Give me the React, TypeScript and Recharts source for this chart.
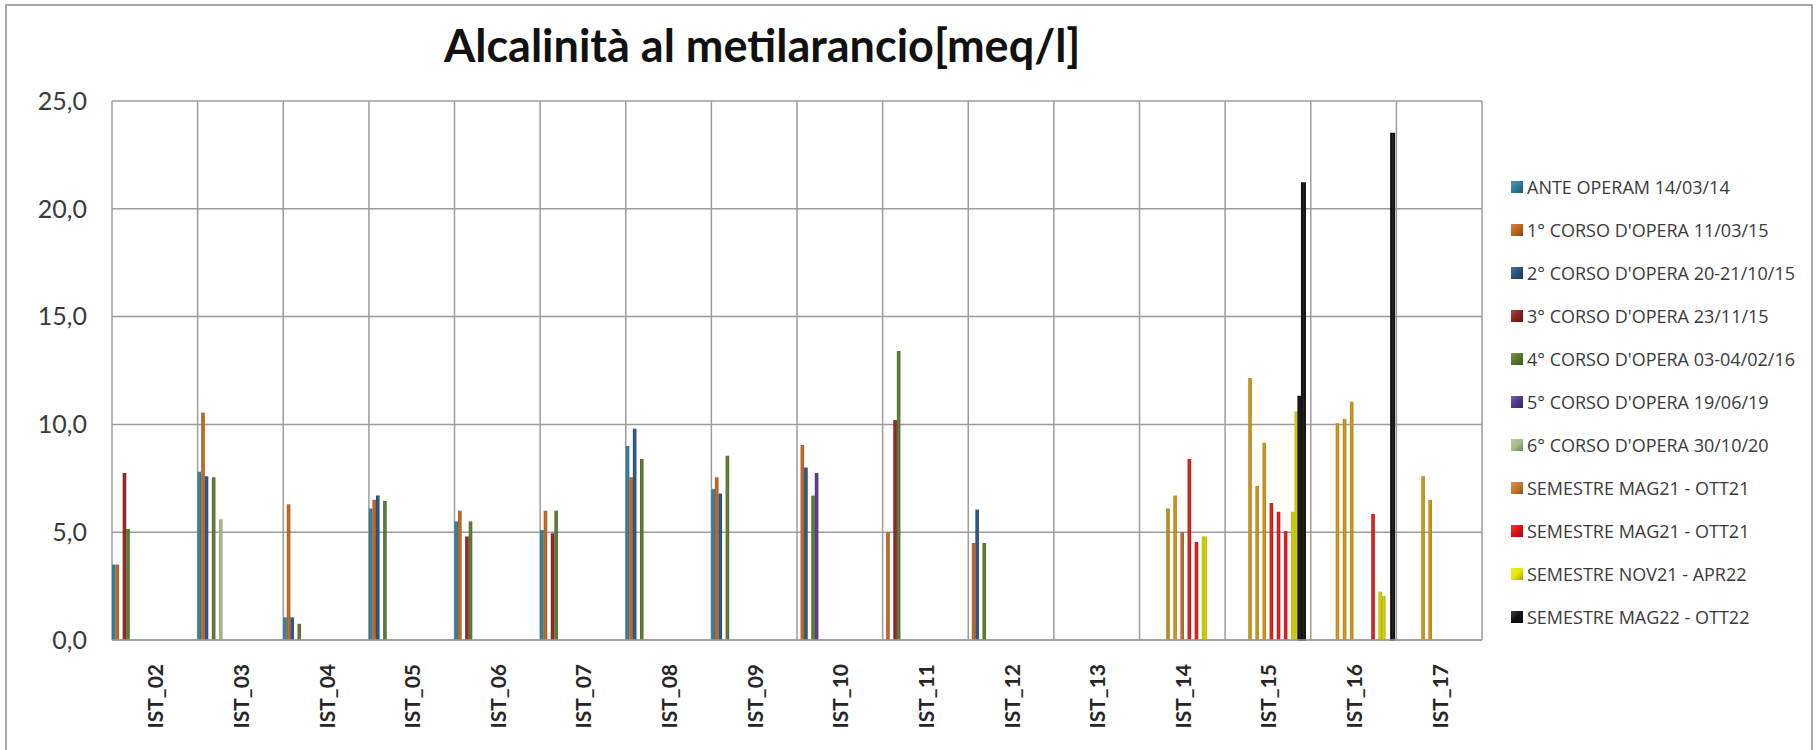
import React from 'react';
import { BarChart, Bar, XAxis, YAxis, CartesianGrid } from 'recharts';

// ---------- DATA ----------
const categories = ['IST_02','IST_03','IST_04','IST_05','IST_06','IST_07','IST_08','IST_09','IST_10','IST_11','IST_12','IST_13','IST_14','IST_15','IST_16','IST_17'];
const yTicks = [0, 5, 10, 15, 20, 25];

type V = number | null;
const anteOperam: V[] = [3.5, 7.8, 1.05, 6.1, 5.5, 5.1, 9.0, 7.0, null, null, null, null, null, null, null, null];
const corso1: V[] = [3.5, 10.55, 6.3, 6.5, 6.0, 6.0, 7.55, 7.55, 9.05, 5.0, 4.5, null, null, null, null, null];
const corso2: V[] = [null, 7.6, 1.05, 6.7, null, null, 9.8, 6.8, 8.0, null, 6.05, null, null, null, null, null];
const corso3: V[] = [7.75, null, null, null, 4.8, 4.95, null, null, null, 10.2, null, null, null, null, null, null];
const corso4: V[] = [5.15, 7.55, 0.75, 6.45, 5.5, 6.0, 8.4, 8.55, 6.7, 13.4, 4.5, null, null, null, null, null];
const corso5: V[] = [null, null, null, null, null, null, null, null, 7.75, null, null, null, null, null, null, null];
const corso6: V[] = [null, 5.6, null, null, null, null, null, null, null, null, null, null, null, null, null, null];

// semester campaigns: several samples per station
const semMag21A: number[][] = [[],[],[],[],[],[],[],[],[],[],[],[],[6.1, 6.7, 5.0],[12.15, 7.15, 9.15],[10.05, 10.25, 11.05],[7.6, 6.5]];
const semMag21B: number[][] = [[],[],[],[],[],[],[],[],[],[],[],[],[8.4, 4.55],[6.35, 5.95, 5.05],[5.85],[]];
const semNov21: number[][] = [[],[],[],[],[],[],[],[],[],[],[],[],[4.8, 4.8],[5.95, 10.6],[2.25, 2.05],[]];
const semMag22: number[][] = [[],[],[],[],[],[],[],[],[],[],[],[],[],[11.3, 21.2],[23.5],[]];

const legendNames = [
  'ANTE OPERAM 14/03/14',
  "1° CORSO D'OPERA 11/03/15",
  "2° CORSO D'OPERA 20-21/10/15",
  "3° CORSO D'OPERA 23/11/15",
  "4° CORSO D'OPERA 03-04/02/16",
  "5° CORSO D'OPERA 19/06/19",
  "6° CORSO D'OPERA 30/10/20",
  'SEMESTRE MAG21 - OTT21',
  'SEMESTRE MAG21 - OTT21',
  'SEMESTRE NOV21 - APR22',
  'SEMESTRE MAG22 - OTT22',
];

// ---------- STYLE / LAYOUT ----------
const earlyColors = ['#2E7D98', '#C0631B', '#24507F', '#8E1F1F', '#58762A', '#523889', '#A3BD85'];
const semColors = ['#C99412', '#DD1515', '#D2CE00', '#111111'];
const legendColors = [...earlyColors, '#C8772A', '#E01010', '#E8E800', '#111111'];
const slotColorOverride: Record<number, string> = { 23: '#B8692C', 15: '#BC8A22' };

// bar slot positions (in half-bar steps) of each semester sample, per station index
const semSlots: Record<number, number[]>[] = [
  { 12: [15, 19, 23], 13: [13, 17, 21], 14: [14, 18, 22], 15: [14, 18] },
  { 12: [27, 31], 13: [25, 29, 33], 14: [34] },
  { 12: [35, 36], 13: [37, 39], 14: [38, 40] },
  { 13: [41, 43], 14: [45] },
];
const H = 1.78;
const SLOT_COUNT = 47;

const earlySeries = [anteOperam, corso1, corso2, corso3, corso4, corso5, corso6];
const semSeries = [semMag21A, semMag21B, semNov21, semMag22];

const slotColor: (string | null)[] = Array(SLOT_COUNT).fill(null);
earlyColors.forEach((c, i) => { slotColor[2 * i] = c; });

const rows = categories.map((name, ci) => {
  const row: Record<string, any> = { name };
  earlySeries.forEach((arr, si) => {
    if (arr[ci] != null) row['s' + 2 * si] = arr[ci];
  });
  semSeries.forEach((arr, si) => {
    arr[ci].forEach((v, k) => {
      const slot = semSlots[si][ci][k];
      row['s' + slot] = v;
      slotColor[slot] = slotColorOverride[slot] || semColors[si];
    });
  });
  return row;
});

function shade(hex: string, f: number) {
  const n = parseInt(hex.slice(1), 16);
  let r = (n >> 16) & 255, g = (n >> 8) & 255, b = n & 255;
  const t = f < 0 ? 0 : 255;
  const p = Math.abs(f);
  r = Math.round((t - r) * p + r); g = Math.round((t - g) * p + g); b = Math.round((t - b) * p + b);
  return '#' + ((1 << 24) + (r << 16) + (g << 8) + b).toString(16).slice(1);
}

const allColors = Array.from(new Set([...slotColor.filter(Boolean) as string[]]));
const gid = (c: string) => 'grad' + c.slice(1);

const FONT = 'Lato, "Open Sans", sans-serif';
const LEGEND_FONT = '"Open Sans", sans-serif';

const XTick = (props: any) => {
  const { x, y, payload } = props;
  return (
    <g transform={`translate(${x},${y + 22})`}>
      <text transform="rotate(-90)" textAnchor="end" dominantBaseline="central" fontFamily={FONT} fontWeight={700} fontSize={21} fill="#262626">
        {payload.value}
      </text>
    </g>
  );
};

const fmt = (v: number) => v.toFixed(1).replace('.', ',');

export default function App() {
  return (
    <div style={{ position: 'absolute', left: 0, top: 0, width: 1818, height: 750, background: '#fff', overflow: 'hidden', fontFamily: FONT }}>
      <div style={{ position: 'absolute', left: 5, top: 4, width: 1808, height: 770, border: '2px solid #a8a8a8', boxSizing: 'border-box' }} />
      <div style={{ position: 'absolute', left: 444, top: 23, fontSize: 45, lineHeight: '45px', fontWeight: 700, color: '#111', whiteSpace: 'nowrap' }}>
        Alcalinità al metilarancio[meq/l]
      </div>
      <div style={{ position: 'absolute', left: 0, top: 0 }}>
        <BarChart width={1818} height={750} data={rows} margin={{ top: 101, right: 336, bottom: 10, left: 12 }} barCategoryGap={0} barGap={-H}>
          <defs>
            {allColors.map((c) => (
              <linearGradient key={c} id={gid(c)} x1="0" y1="0" x2="1" y2="0">
                <stop offset="0%" stopColor={shade(c, -0.12)} />
                <stop offset="50%" stopColor={shade(c, 0.08)} />
                <stop offset="100%" stopColor={shade(c, -0.15)} />
              </linearGradient>
            ))}
          </defs>
          <CartesianGrid
            stroke="#9c9c9c"
            strokeWidth={1.5}
            verticalCoordinatesGenerator={({ offset }: any) =>
              Array.from({ length: categories.length + 1 }, (_, i) => offset.left + (i * offset.width) / categories.length)
            }
          />
          <XAxis dataKey="name" interval={0} height={100} tickLine={false} tickSize={0} axisLine={{ stroke: '#9c9c9c', strokeWidth: 1.5 }} tick={<XTick />} />
          <YAxis domain={[0, 25]} ticks={yTicks} width={100} axisLine={false} tickLine={false} tickSize={0} tickMargin={25} tickFormatter={fmt} tick={{ fontFamily: FONT, fontSize: 25, fill: '#3a3a3a' }} />
          {Array.from({ length: SLOT_COUNT }, (_, u) => {
            const c = slotColor[u];
            const isBlack = c === '#111111';
            return (
              <Bar
                key={u}
                dataKey={'s' + u}
                barSize={2 * H}
                fill={c ? `url(#${gid(c)})` : 'transparent'}
                stroke={isBlack ? '#111111' : undefined}
                strokeWidth={isBlack ? 1.4 : 0}
                isAnimationActive={false}
              />
            );
          })}
        </BarChart>
      </div>
      {legendNames.map((n, i) => {
        const c = legendColors[i];
        return (
          <div key={i} style={{ position: 'absolute', left: 1511, top: 186.7 + 43 * i - 12, height: 24, display: 'flex', alignItems: 'center', whiteSpace: 'nowrap' }}>
            <div style={{ width: 12, height: 12, background: `linear-gradient(135deg, ${shade(c, 0.2)}, ${c} 50%, ${shade(c, -0.3)})`, marginRight: 4 }} />
            <span style={{ fontFamily: LEGEND_FONT, fontSize: 18, color: '#3a3a3a' }}>{n}</span>
          </div>
        );
      })}
    </div>
  );
}
